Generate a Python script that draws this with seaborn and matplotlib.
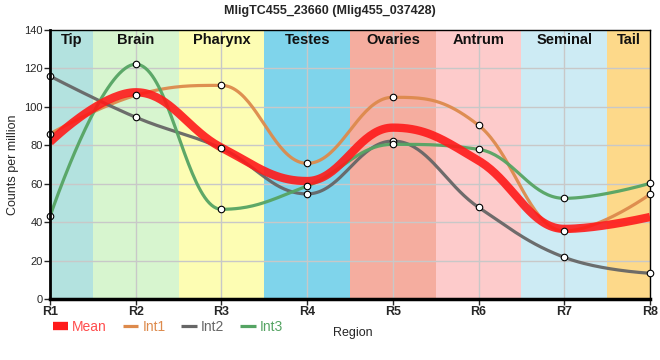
import numpy as np
import pandas as pd
import matplotlib
matplotlib.use("Agg")
import matplotlib.pyplot as plt
from matplotlib.lines import Line2D
import seaborn as sns

# Data
regions = ["R1", "R2", "R3", "R4", "R5", "R6", "R7", "R8"]
tissues = ["Tip", "Brain", "Pharynx", "Testes", "Ovaries", "Antrum", "Seminal", "Tail"]
tissue_colors = ["#b3e2df", "#d7f5cf", "#fdfdb3", "#7fd4eb", "#f5ad9f",
                 "#fdcbcb", "#cdebf4", "#fdd98a"]
int1 = [86.0, 106.0, 111.2, 70.6, 105.0, 90.4, 35.4, 54.5]
int2 = [116.0, 94.6, 78.4, 54.7, 82.2, 47.7, 21.7, 13.4]
int3 = [43.0, 122.2, 46.7, 58.8, 80.5, 77.9, 52.4, 60.2]
mean = [81.7, 107.6, 78.8, 61.4, 89.2, 72.0, 36.5, 42.7]

series_colors = {"Int1": "#dd8a4c", "Int2": "#666666", "Int3": "#55a463"}
mean_color = "#ff1a1a"


def spline_curve(y, n=40, smoothing=1.5):
    # bezier spline through the points, control points kept flat at extremes
    y = np.asarray(y, dtype=float)
    x = np.arange(len(y), dtype=float)
    k = len(y)
    denom = smoothing + 1
    lc = [(x[i], y[i]) for i in range(k)]
    rc = [(x[i], y[i]) for i in range(k)]
    for i in range(1, k - 1):
        lx = (smoothing * x[i] + x[i - 1]) / denom
        ly = (smoothing * y[i] + y[i - 1]) / denom
        rx = (smoothing * x[i] + x[i + 1]) / denom
        ry = (smoothing * y[i] + y[i + 1]) / denom
        corr = (ry - ly) * (rx - x[i]) / (rx - lx) + y[i] - ry
        ly += corr
        ry += corr
        if ly > y[i - 1] and ly > y[i]:
            ly = max(y[i - 1], y[i]); ry = 2 * y[i] - ly
        elif ly < y[i - 1] and ly < y[i]:
            ly = min(y[i - 1], y[i]); ry = 2 * y[i] - ly
        if ry > y[i + 1] and ry > y[i]:
            ry = max(y[i + 1], y[i]); ly = 2 * y[i] - ry
        elif ry < y[i + 1] and ry < y[i]:
            ry = min(y[i + 1], y[i]); ly = 2 * y[i] - ry
        lc[i] = (lx, ly)
        rc[i] = (rx, ry)
    xs, ys = [], []
    for i in range(k - 1):
        u = np.linspace(0, 1, n, endpoint=(i == k - 2))[:, None]
        p0 = np.array([x[i], y[i]])
        p1 = np.array(rc[i])
        p2 = np.array(lc[i + 1])
        p3 = np.array([x[i + 1], y[i + 1]])
        b = ((1 - u) ** 3) * p0 + 3 * ((1 - u) ** 2) * u * p1 + 3 * (1 - u) * u**2 * p2 + u**3 * p3
        xs.append(b[:, 0])
        ys.append(b[:, 1])
    return np.concatenate(xs), np.concatenate(ys)


sns.set_theme(style="white")
plt.rcParams["font.family"] = ["Liberation Sans Narrow", "Liberation Sans", "DejaVu Sans"]

fig = plt.figure(figsize=(6.6, 3.6), dpi=100)
ax = fig.add_axes([0.0758, 0.1694, 0.9091, 0.7472])

# tissue background bands
last = len(regions) - 1
for i, (name, col) in enumerate(zip(tissues, tissue_colors)):
    x0, x1 = max(i - 0.5, 0), min(i + 0.5, last)
    ax.axvspan(x0, x1, color=col, lw=0, zorder=0)
    ax.text((x0 + x1) / 2, 135, name, ha="center", va="center", fontsize=10.5,
            fontweight="bold", color="#111111", zorder=5)

for v in range(20, 140, 20):
    ax.axhline(v, color="#c8c8c8", lw=1, zorder=1)
for i in range(1, last):
    ax.axvline(i, color="#c8c8c8", lw=1, zorder=1)

for name, vals in [("Int1", int1), ("Int2", int2), ("Int3", int3)]:
    cx, cy = spline_curve(vals)
    ax.plot(cx, cy, color=series_colors[name], lw=2.3, alpha=0.95, zorder=3,
            solid_capstyle="butt")

cx, cy = spline_curve(mean)
ax.plot(cx, cy, color=mean_color, lw=6.0, alpha=0.9, zorder=4, solid_capstyle="butt")

pts = pd.DataFrame({
    "pos": np.tile(np.arange(len(regions)), 3),
    "value": int1 + int2 + int3,
})
sns.scatterplot(data=pts, x="pos", y="value", ax=ax, s=22, color="white",
                edgecolor="black", linewidth=0.8, zorder=6, clip_on=False, legend=False)

ax.set_xlim(0, last)
ax.set_ylim(0, 140)
ax.set_xticks(range(len(regions)))
ax.set_xticklabels(regions, fontsize=9, fontweight="bold")
ax.set_yticks(range(0, 141, 20))
ax.tick_params(axis="y", labelsize=8, length=4, width=1, direction="out", pad=1, left=True)
ax.tick_params(axis="x", length=4, width=1, direction="out", pad=1, bottom=True)
ax.set_xlabel("Region", fontsize=9)
ax.xaxis.set_label_coords(0.505, -0.105)
ax.set_ylabel("Counts per million", fontsize=9)
ax.yaxis.set_label_coords(-0.052, 0.5)
for side in ["top", "right"]:
    ax.spines[side].set_linewidth(1)
    ax.spines[side].set_color("black")
ax.spines["left"].set_linewidth(2)
ax.spines["bottom"].set_linewidth(2.5)
for side in ["left", "bottom"]:
    ax.spines[side].set_color("black")
    ax.spines[side].set_zorder(7)

fig.suptitle("MligTC455_23660 (Mlig455_037428)", fontsize=9, fontweight="bold",
             x=0.5, y=0.985, va="top")

handles = [Line2D([], [], color=mean_color, lw=6, solid_capstyle="butt")]
handles += [Line2D([], [], color=series_colors[k], lw=2.3, solid_capstyle="butt")
            for k in ["Int1", "Int2", "Int3"]]
leg = fig.legend(handles, ["Mean", "Int1", "Int2", "Int3"], loc="center left",
                 bbox_to_anchor=(0.061, 0.093), ncol=4, frameon=False, fontsize=10,
                 handlelength=1.1, handletextpad=0.3, columnspacing=1.15,
                 labelcolor="linecolor")
leg.get_texts()[0].set_color("#ff4d4d")

fig.savefig("out.png", dpi=100)
